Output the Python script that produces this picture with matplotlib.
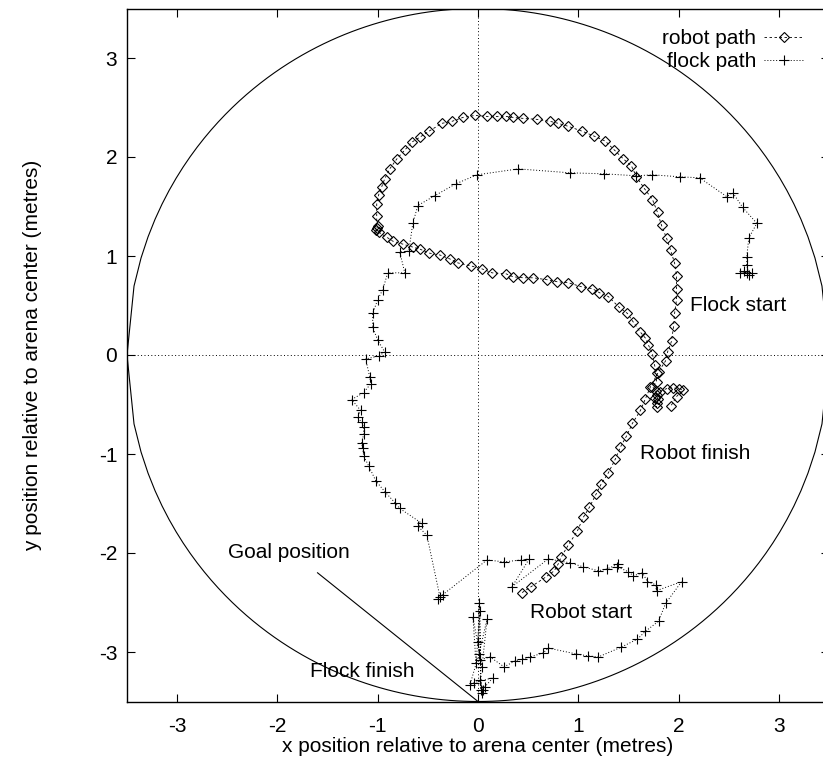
import numpy as np
import matplotlib
matplotlib.use("Agg")
import matplotlib.pyplot as plt

plt.rcParams['font.family'] = ['Liberation Sans', 'DejaVu Sans']
plt.rcParams['axes.unicode_minus'] = False

# arena radius (metres)
ARENA_R = 3.5

# robot trajectory (metres)
robot_x = [0.44, 0.53, 0.68, 0.76, 0.80, 0.83, 0.90, 0.99, 1.05, 1.11, 1.18, 1.23,
           1.30, 1.37, 1.42, 1.48, 1.54, 1.62, 1.67, 1.72, 1.80, 1.87, 1.89, 1.93,
           1.95, 1.96, 1.98, 1.98, 1.98, 1.96, 1.92, 1.88, 1.83, 1.79, 1.74, 1.66,
           1.58, 1.53, 1.45, 1.36, 1.27, 1.16, 1.04, 0.90, 0.80, 0.72, 0.59, 0.45,
           0.35, 0.28, 0.19, 0.09, -0.03, -0.15, -0.26, -0.36, -0.49, -0.58, -0.66,
           -0.73, -0.81, -0.88, -0.93, -0.96, -0.99, -1.01, -1.01, -1.01, -1.00,
           -1.02, -0.99, -0.91, -0.85, -0.75, -0.65, -0.58, -0.49, -0.38, -0.28,
           -0.20, -0.07, 0.04, 0.14, 0.28, 0.35, 0.45, 0.55, 0.69, 0.79, 0.90, 1.03,
           1.14, 1.21, 1.30, 1.41, 1.49, 1.55, 1.62, 1.67, 1.70, 1.74, 1.76, 1.78,
           1.78, 1.74, 1.77, 1.78, 1.79, 1.78, 1.78, 1.76, 1.81, 1.88, 1.94, 2.00,
           2.04, 1.98, 1.92]
robot_y = [-2.40, -2.34, -2.24, -2.18, -2.11, -2.04, -1.92, -1.78, -1.64, -1.54,
           -1.40, -1.30, -1.19, -1.05, -0.93, -0.82, -0.69, -0.56, -0.44, -0.32,
           -0.17, -0.06, 0.03, 0.14, 0.29, 0.42, 0.56, 0.67, 0.80, 0.93, 1.06, 1.18,
           1.31, 1.44, 1.57, 1.68, 1.80, 1.91, 1.98, 2.07, 2.16, 2.21, 2.26, 2.31,
           2.34, 2.36, 2.38, 2.39, 2.40, 2.41, 2.41, 2.41, 2.42, 2.40, 2.36, 2.34,
           2.26, 2.20, 2.15, 2.07, 1.98, 1.88, 1.78, 1.70, 1.62, 1.53, 1.40, 1.28,
           1.30, 1.26, 1.24, 1.19, 1.15, 1.12, 1.09, 1.07, 1.03, 1.01, 0.97, 0.93,
           0.90, 0.87, 0.83, 0.82, 0.79, 0.78, 0.78, 0.76, 0.74, 0.73, 0.69, 0.67,
           0.63, 0.59, 0.48, 0.42, 0.33, 0.23, 0.17, 0.10, 0.01, -0.10, -0.18,
           -0.27, -0.32, -0.36, -0.40, -0.44, -0.48, -0.53, -0.43, -0.37, -0.34,
           -0.33, -0.34, -0.35, -0.42, -0.52]

# flock centre trajectory (metres)
flock_x = [2.68, 2.61, 2.73, 2.65, 2.70, 2.68, 2.68, 2.70, 2.78, 2.64, 2.54, 2.48,
           2.21, 2.01, 1.74, 1.58, 1.26, 0.92, 0.40, -0.01, -0.22, -0.43, -0.60,
           -0.65, -0.69, -0.78, -0.73, -0.90, -0.95, -1.00, -1.05, -1.05, -1.00,
           -0.93, -0.99, -1.12, -1.08, -1.07, -1.14, -1.26, -1.17, -1.20, -1.16,
           -1.14, -1.14, -1.16, -1.15, -1.14, -1.09, -1.02, -0.93, -0.83, -0.78,
           -0.56, -0.60, -0.51, -0.38, -0.35, -0.40, 0.09, 0.26, 0.43, 0.51, 0.34,
           0.70, 0.92, 1.05, 1.20, 1.29, 1.40, 1.39, 1.50, 1.55, 1.64, 1.69, 1.77,
           1.78, 2.03, 1.87, 1.80, 1.67, 1.59, 1.43, 1.20, 1.10, 0.98, 0.70, 0.65,
           0.52, 0.44, 0.37, 0.26, 0.12, 0.02, 0.00, 0.01, 0.03, 0.02, -0.02, -0.05,
           0.04, 0.09, 0.01, -0.08, -0.04, 0.15, 0.07, 0.04, 0.02, 0.05]
flock_y = [0.83, 0.83, 0.83, 0.85, 0.81, 0.91, 0.99, 1.18, 1.33, 1.49, 1.64, 1.60,
           1.79, 1.80, 1.82, 1.81, 1.83, 1.84, 1.88, 1.82, 1.73, 1.61, 1.51, 1.33,
           1.05, 1.04, 0.83, 0.83, 0.66, 0.56, 0.42, 0.28, 0.15, 0.03, -0.01, -0.04,
           -0.22, -0.29, -0.38, -0.45, -0.56, -0.63, -0.68, -0.73, -0.80, -0.89,
           -0.94, -1.02, -1.12, -1.27, -1.38, -1.49, -1.55, -1.70, -1.73, -1.82,
           -2.44, -2.42, -2.46, -2.07, -2.09, -2.07, -2.06, -2.34, -2.06, -2.10,
           -2.14, -2.18, -2.16, -2.11, -2.14, -2.19, -2.23, -2.20, -2.29, -2.32,
           -2.38, -2.29, -2.51, -2.69, -2.79, -2.87, -2.95, -3.05, -3.04, -3.02,
           -2.96, -3.01, -3.05, -3.07, -3.09, -3.15, -3.05, -3.08, -2.90, -2.51,
           -3.38, -2.59, -3.11, -2.65, -3.15, -2.67, -3.02, -3.33, -3.31, -3.26,
           -3.35, -3.41, -3.28, -3.38]

# goal marker line: from the label down to the goal on the arena wall
goal_line_x = [-1.60, 0.0]
goal_line_y = [-2.20, -3.5]

ticks = [-3, -2, -1, 0, 1, 2, 3]


def draw_arena(ax):
    # arena wall as two half circles sampled evenly in x (100 samples)
    x = np.linspace(-ARENA_R, ARENA_R, 101)
    y = np.sqrt(np.clip(ARENA_R ** 2 - x ** 2, 0, None))
    ax.plot(x, y, color='black', lw=0.8)
    ax.plot(x, -y, color='black', lw=0.8)
    ax.axhline(0, color='black', lw=0.7, ls=(0, (1, 2.5)))
    ax.axvline(0, color='black', lw=0.7, ls=(0, (1, 2.5)))


def main():
    fig = plt.figure(figsize=(8.23, 7.58), dpi=100)
    ax = fig.add_axes([127 / 823, 56.5 / 758, 702 / 823, 693 / 758])

    draw_arena(ax)

    ax.plot(robot_x, robot_y, color='black', lw=0.6, ls=(0, (3, 3)),
            marker='D', ms=4.7, mfc='none', mec='black', mew=0.8,
            label='robot path')
    ax.plot(flock_x, flock_y, color='black', lw=0.7, ls=(0, (1, 2)),
            marker='+', ms=7.5, mec='black', mew=0.8,
            label='flock path')

    ax.plot(goal_line_x, goal_line_y, color='black', lw=0.8)

    fs = 15
    ax.text(-2.49, -2.0, 'Goal position', fontsize=fs, va='center')
    ax.text(-1.68, -3.2, 'Flock finish', fontsize=fs, va='center')
    ax.text(0.52, -2.6, 'Robot start', fontsize=fs, va='center')
    ax.text(1.62, -0.99, 'Robot finish', fontsize=fs, va='center')
    ax.text(2.11, 0.50, 'Flock start', fontsize=fs, va='center')

    ax.set_xlim(-3.5, 3.5)
    ax.set_ylim(-3.5, 3.5)
    ax.set_xticks(ticks)
    ax.set_yticks(ticks)
    ax.tick_params(direction='in', length=6, width=0.8, top=True, right=True,
                   labelsize=fs)
    ax.tick_params(axis='x', pad=11)
    ax.tick_params(axis='y', pad=7)
    for s in ax.spines.values():
        s.set_linewidth(1.0)

    ax.set_xlabel('x position relative to arena center (metres)', fontsize=fs,
                  labelpad=1)
    ax.set_ylabel('y position relative to arena center (metres)', fontsize=fs,
                  labelpad=41)

    ax.legend(loc='upper right', bbox_to_anchor=(804 / 823, 1 - 29 / 758),
              bbox_transform=fig.transFigure, frameon=False, markerfirst=False,
              fontsize=fs, handlelength=1.9, handletextpad=0.4, numpoints=1,
              borderpad=0, borderaxespad=0, labelspacing=0.2)

    fig.savefig('out.png', dpi=100)
    plt.close(fig)


if __name__ == '__main__':
    main()
